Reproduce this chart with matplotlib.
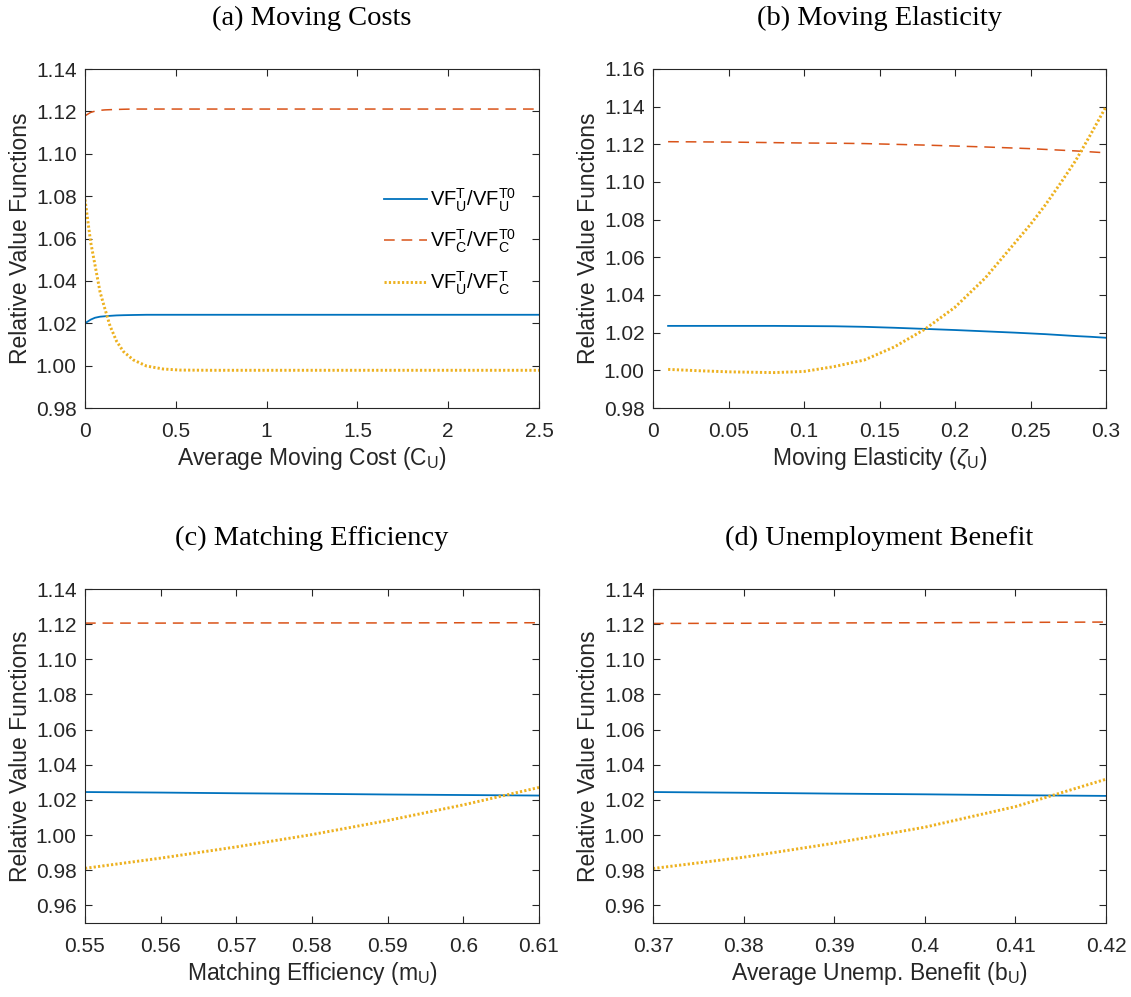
import matplotlib
matplotlib.use("Agg")
import matplotlib.pyplot as plt
from matplotlib.ticker import FixedLocator, FormatStrFormatter, FuncFormatter

plt.rcParams["font.family"] = ["Liberation Sans", "DejaVu Sans"]
plt.rcParams["mathtext.fontset"] = "custom"
plt.rcParams["mathtext.rm"] = "Liberation Sans"
plt.rcParams["mathtext.it"] = "Liberation Sans:italic"
plt.rcParams["mathtext.bf"] = "Liberation Sans:bold"

# colours (MATLAB default order)
C_BLUE = "#0072BD"
C_RED = "#D95319"
C_YEL = "#EDB120"

# ---- (a) Moving costs ----
cost_x = [0, 0.031, 0.055, 0.083, 0.110, 0.138, 0.174, 0.211, 0.266, 0.339, 0.431, 0.523,
          0.7, 1.0, 1.5, 2.0, 2.5]
cost_vf_u = [1.0200, 1.0217, 1.0226, 1.0231, 1.0233, 1.0235, 1.0237, 1.0238, 1.0239, 1.0240, 1.0240, 1.0240,
             1.0240, 1.0240, 1.0240, 1.0240, 1.0240]
cost_vf_c = [1.1179, 1.1195, 1.1201, 1.1205, 1.1207, 1.1208, 1.1209, 1.1210, 1.1211, 1.1211, 1.1211, 1.1211,
             1.1211, 1.1211, 1.1211, 1.1211, 1.1211]
cost_vf_uc = [1.0784, 1.0584, 1.0475, 1.0347, 1.0267, 1.0187, 1.0115, 1.0067, 1.0027, 0.9998, 0.9984, 0.9979,
              0.9978, 0.9978, 0.9978, 0.9978, 0.9978]

# ---- (b) Moving elasticity ----
elas_x = [0.01, 0.03, 0.05, 0.08, 0.10, 0.12, 0.14, 0.16, 0.18, 0.20, 0.22, 0.24, 0.25, 0.26, 0.27,
          0.28, 0.29, 0.30]
elas_vf_u = [1.0236, 1.0236, 1.0236, 1.0236, 1.0235, 1.0234, 1.0231, 1.0226, 1.0220, 1.0214, 1.0207,
             1.0200, 1.0196, 1.0192, 1.0187, 1.0182, 1.0178, 1.0173]
elas_vf_c = [1.1214, 1.1213, 1.1212, 1.1209, 1.1207, 1.1206, 1.1204, 1.1200, 1.1196, 1.1191, 1.1186,
             1.1180, 1.1177, 1.1173, 1.1169, 1.1165, 1.1160, 1.1155]
elas_vf_uc = [1.0005, 0.9998, 0.9992, 0.9988, 0.9994, 1.0020, 1.0055, 1.0125, 1.0218, 1.0335, 1.0490,
              1.0680, 1.0775, 1.0880, 1.0995, 1.1115, 1.1255, 1.1400]

# ---- (c) Matching efficiency ----
match_x = [0.55, 0.56, 0.57, 0.58, 0.59, 0.60, 0.61]
match_vf_u = [1.0245, 1.0242, 1.0238, 1.0235, 1.0231, 1.0228, 1.0225]
match_vf_c = [1.1206, 1.1206, 1.1207, 1.1207, 1.1207, 1.1208, 1.1208]
match_vf_uc = [0.9811, 0.9869, 0.9933, 1.0003, 1.0083, 1.0172, 1.0271]

# ---- (d) Unemployment benefit ----
ben_x = [0.37, 0.38, 0.39, 0.40, 0.41, 0.42]
ben_vf_u = [1.0245, 1.0241, 1.0236, 1.0232, 1.0227, 1.0223]
ben_vf_c = [1.1204, 1.1205, 1.1207, 1.1208, 1.1210, 1.1212]
ben_vf_uc = [0.9810, 0.9874, 0.9954, 1.0045, 1.0162, 1.0318]

legend_labels = [
    r"VF$_\mathrm{U}^\mathrm{T}$/VF$_\mathrm{U}^\mathrm{T0}$",
    r"VF$_\mathrm{C}^\mathrm{T}$/VF$_\mathrm{C}^\mathrm{T0}$",
    r"VF$_\mathrm{U}^\mathrm{T}$/VF$_\mathrm{C}^\mathrm{T}$",
]

panels = [
    dict(title="(a) Moving Costs", x=cost_x, ys=(cost_vf_u, cost_vf_c, cost_vf_uc),
         xlabel=r"Average Moving Cost (C$_\mathrm{U}$)", xlim=(0, 2.5),
         xticks=[0, 0.5, 1, 1.5, 2, 2.5], ylim=(0.98, 1.14),
         yticks=[0.98, 1.00, 1.02, 1.04, 1.06, 1.08, 1.10, 1.12, 1.14]),
    dict(title="(b) Moving Elasticity", x=elas_x, ys=(elas_vf_u, elas_vf_c, elas_vf_uc),
         xlabel=r"Moving Elasticity ($\zeta_\mathrm{U}$)", xlim=(0, 0.3),
         xticks=[0, 0.05, 0.1, 0.15, 0.2, 0.25, 0.3], ylim=(0.98, 1.16),
         yticks=[0.98, 1.00, 1.02, 1.04, 1.06, 1.08, 1.10, 1.12, 1.14, 1.16]),
    dict(title="(c) Matching Efficiency", x=match_x, ys=(match_vf_u, match_vf_c, match_vf_uc),
         xlabel=r"Matching Efficiency (m$_\mathrm{U}$)", xlim=(0.55, 0.61),
         xticks=[0.55, 0.56, 0.57, 0.58, 0.59, 0.60, 0.61], ylim=(0.95, 1.14),
         yticks=[0.96, 0.98, 1.00, 1.02, 1.04, 1.06, 1.08, 1.10, 1.12, 1.14]),
    dict(title="(d) Unemployment Benefit", x=ben_x, ys=(ben_vf_u, ben_vf_c, ben_vf_uc),
         xlabel=r"Average Unemp. Benefit (b$_\mathrm{U}$)", xlim=(0.37, 0.42),
         xticks=[0.37, 0.38, 0.39, 0.40, 0.41, 0.42], ylim=(0.95, 1.14),
         yticks=[0.96, 0.98, 1.00, 1.02, 1.04, 1.06, 1.08, 1.10, 1.12, 1.14]),
]

W, H = 1131, 997
fig = plt.figure(figsize=(W / 100, H / 100), dpi=100)

# axes boxes in pixels: left, top, right, bottom
boxes = [(85, 69, 539, 408), (653, 69, 1106, 408),
         (85, 589, 539, 923), (653, 589, 1106, 923)]


def g_fmt(v, pos):
    return f"{v:.2f}".rstrip("0").rstrip(".")


for p, (l, t, r, b) in zip(panels, boxes):
    ax = fig.add_axes([l / W, 1 - b / H, (r - l) / W, (b - t) / H])
    ax.plot(p["x"], p["ys"][0], color=C_BLUE, lw=1.3, ls="-", label=legend_labels[0])
    ax.plot(p["x"], p["ys"][1], color=C_RED, lw=1.1, ls=(0, (7, 4.5)), label=legend_labels[1])
    ax.plot(p["x"], p["ys"][2], color=C_YEL, lw=2.1, ls=(0, (0.75, 0.75)), label=legend_labels[2])

    ax.set_xlim(*p["xlim"])
    ax.set_ylim(*p["ylim"])
    ax.xaxis.set_major_locator(FixedLocator(p["xticks"]))
    ax.yaxis.set_major_locator(FixedLocator(p["yticks"]))
    ax.xaxis.set_major_formatter(FuncFormatter(g_fmt))
    ax.yaxis.set_major_formatter(FormatStrFormatter("%.2f"))
    ax.tick_params(direction="in", top=True, right=True, length=5, width=0.8,
                   labelsize=15, colors="#262626")
    ax.tick_params(axis="x", pad=10)
    ax.tick_params(axis="y", pad=6)
    for sp in ax.spines.values():
        sp.set_color("#262626")
        sp.set_linewidth(0.8)

    ax.set_xlabel(p["xlabel"], fontsize=16.5, color="#262626", labelpad=3)
    ax.set_ylabel("Relative Value Functions", fontsize=16.5, color="#262626", labelpad=3)

    cx = (l + r) / 2 / W
    fig.text(cx, 1 - (t - 51) / H, p["title"], ha="center", va="center",
             fontsize=20.5, family=["Liberation Serif", "DejaVu Serif"])

    if p["title"].startswith("(a)"):
        ax.legend(loc="upper right", bbox_to_anchor=(0.975, 0.69), frameon=False,
                  fontsize=14.5, handlelength=2.1, labelspacing=0.7, handletextpad=0.15,
                  borderaxespad=0.2)

fig.savefig("out.png", dpi=100)
